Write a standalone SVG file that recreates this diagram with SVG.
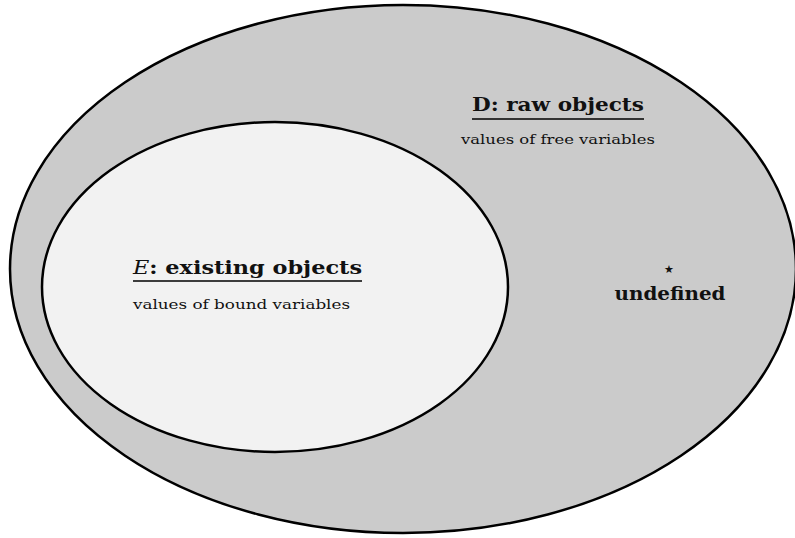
<svg xmlns="http://www.w3.org/2000/svg" width="795" height="538" viewBox="0 0 795 538">
<style>
text{font-family:"DejaVu Serif","Liberation Serif",serif;fill:#111}
.b{font-weight:bold;font-size:19px}
.s{font-size:13.5px}
.ul{stroke:#000;stroke-width:1.4}
</style>
<rect width="795" height="538" fill="#fff"/>
<g id="raw">
<ellipse cx="403" cy="269" rx="393" ry="264" fill="#cbcbcb" stroke="#000" stroke-width="2.5"/>
<text class="b" x="558" y="111" text-anchor="middle" textLength="172" lengthAdjust="spacingAndGlyphs">D: raw objects</text>
<line class="ul" x1="472" y1="119" x2="644" y2="119"/>
<text class="s" x="558" y="144" text-anchor="middle" textLength="194" lengthAdjust="spacingAndGlyphs">values of free variables</text>
</g>
<g id="existing">
<ellipse cx="275" cy="287" rx="233" ry="165" fill="#f2f2f2" stroke="#000" stroke-width="2.5"/>
<text class="b" x="133" y="274" textLength="229" lengthAdjust="spacingAndGlyphs"><tspan font-style="italic" font-weight="normal">E</tspan>: existing objects</text>
<line class="ul" x1="133" y1="281" x2="362" y2="281"/>
<text class="s" x="133" y="309" textLength="217" lengthAdjust="spacingAndGlyphs">values of bound variables</text>
</g>
<g id="undefined">
<text x="669" y="273" text-anchor="middle" font-size="11">★</text>
<text class="b" x="670" y="300" text-anchor="middle" textLength="111" lengthAdjust="spacingAndGlyphs">undefined</text>
</g>
</svg>
